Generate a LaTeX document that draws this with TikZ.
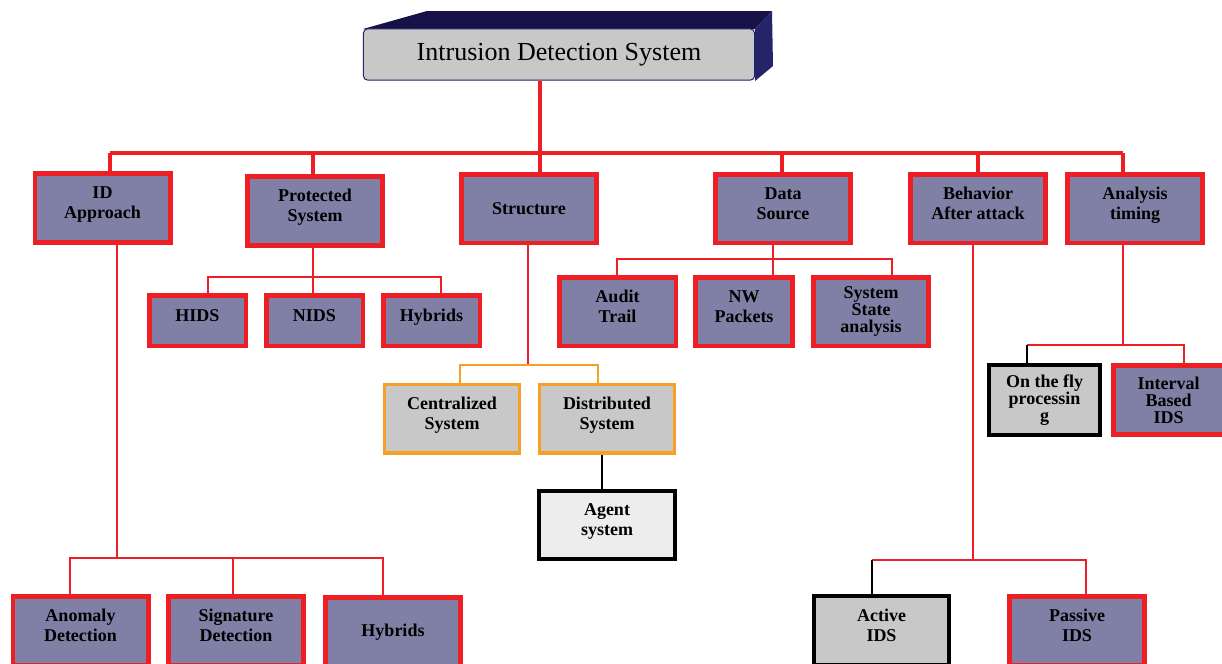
\documentclass[tikz,border=0pt]{standalone}
\usepackage{fontspec}
\setmainfont{Liberation Serif}
\definecolor{idsred}{RGB}{237,30,36}
\definecolor{idsblue}{RGB}{128,128,166}
\definecolor{idsgray}{RGB}{200,200,200}
\definecolor{idslight}{RGB}{236,237,236}
\definecolor{idsorange}{RGB}{247,160,40}
\definecolor{idsnavy}{RGB}{22,18,72}
\definecolor{idsside}{RGB}{38,36,104}
\tikzset{every picture/.style={line width=0.75pt}}
\tikzset{
  redbox/.style={draw=idsred, fill=idsblue, line width=3.4pt, inner sep=0pt, align=center,
    font=\bfseries\fontsize{13.5}{15}\selectfont, minimum width=101.6pt, minimum height=51.4pt,
    text depth=8pt},
  smallbox/.style={redbox, minimum width=72.4pt, minimum height=37.9pt},
  orangebox/.style={redbox, draw=idsorange, fill=idsgray, line width=2.6pt},
  blackbox/.style={redbox, draw=black, fill=idsgray, line width=3pt},
  agentbox/.style={blackbox, fill=idslight},
  flat/.style={text depth={}},
  tight/.style={flat, font=\bfseries\fontsize{13.5}{12.75}\selectfont},
  redlink/.style={draw=idsred, line width=3pt},
  sublink/.style={draw=idsred, line width=2.2pt},
  orangelink/.style={draw=idsorange, line width=2.2pt},
  blacklink/.style={draw=black, line width=2.2pt}
}

\begin{document}
\begin{tikzpicture}[x=0.75pt,y=0.75pt,yscale=-1,xscale=1]
    \useasboundingbox (0,0) rectangle (1222,664);
    % Title block, depth faces first
    \fill[idsnavy] (363,29) -- (427,11) -- (772,11) -- (755,29) -- cycle;
    \fill[idsside] (755,29) -- (772,11) -- (773,66) -- (755,81) -- cycle;
    \node[draw=idsside, fill=idsgray, rounded corners=3pt, minimum width=293.3pt, minimum height=38.3pt,
      font=\fontsize{19.5}{22}\selectfont] (ids) at (559,54.5) {Intrusion Detection System};
    % Level one
    \node[redbox] (idapp) at (102.5,208) {ID\\Approach};
    \node[redbox] (prot) at (315,211) {Protected\\System};
    \node[redbox, flat] (struct) at (529,208.5) {Structure};
    \node[redbox] (datasrc) at (783,208.5) {Data\\Source};
    \node[redbox] (behav) at (978,208.5) {Behavior\\After attack};
    \node[redbox] (timing) at (1135,208.5) {Analysis\\timing};
    % Protected system
    \node[smallbox] (hids) at (197.5,320.5) {HIDS};
    \node[smallbox] (nids) at (314.5,320.5) {NIDS};
    \node[smallbox] (hybp) at (431.5,320.5) {Hybrids};
    % Data source
    \node[redbox, minimum width=87.4pt] (audit) at (617.5,311.5) {Audit\\Trail};
    \node[redbox, minimum width=72.4pt] (nwpkt) at (744,311.5) {NW\\Packets};
    \node[redbox, tight, minimum width=86.6pt] (sysst) at (871,311.5) {System\\State\\analysis};
    % Structure
    \node[orangebox] (central) at (452,418.5) {Centralized\\System};
    \node[orangebox] (distrib) at (607,418.5) {Distributed\\System};
    \node[agentbox] (agent) at (607,525) {Agent\\system};
    % Analysis timing
    \node[blackbox, tight, minimum width=82.9pt, minimum height=52.1pt] (onfly) at (1044.5,400) {On the fly\\processin\\g};
    \node[redbox, tight, minimum width=82.9pt, minimum height=52.1pt] (interval) at (1168.5,400) {Interval\\Based\\IDS};
    % ID approach
    \node[redbox] (anomaly) at (80.5,630.5) {Anomaly\\Detection};
    \node[redbox] (signature) at (236,630.5) {Signature\\Detection};
    \node[redbox, flat] (hybd) at (393,632) {Hybrids};
    % Behavior after attack
    \node[blackbox] (active) at (881.5,630.5) {Active\\IDS};
    \node[redbox] (passive) at (1077,630.5) {Passive\\IDS};
    % Junctions
    \coordinate (j0) at (540,153);
    \coordinate (jA) at (110,153);
    \coordinate (jB) at (313,153);
    \coordinate (jD) at (782,153);
    \coordinate (jE) at (978,153);
    \coordinate (jF) at (1123,153);
    \coordinate (p0) at (313,277);
    \coordinate (p1) at (208,277);
    \coordinate (p3) at (441,277);
    \coordinate (d0) at (773,259);
    \coordinate (d1) at (617,259);
    \coordinate (d3) at (892,259);
    \coordinate (s0) at (528,365);
    \coordinate (s1) at (460,365);
    \coordinate (s2) at (598,365);
    \coordinate (a0) at (602,470);
    \coordinate (i0) at (117,558);
    \coordinate (i1) at (70,558);
    \coordinate (i2) at (233,558);
    \coordinate (i3) at (383,558);
    \coordinate (e0) at (973,560);
    \coordinate (e1) at (872,560);
    \coordinate (e2) at (1086,560);
    \coordinate (t0) at (1123,345);
    \coordinate (t1) at (1027,345);
    \coordinate (t2) at (1184,345);
    % Connection
    \draw[redlink, line width=3.6pt] (ids.south -| j0) -- (j0);
    \draw[redlink] (jA) -- (jF);
    \draw[redlink] (jA) -- (jA |- idapp.north);
    \draw[redlink] (jB) -- (jB |- prot.north);
    \draw[redlink] (j0) -- (j0 |- struct.north);
    \draw[redlink] (jD) -- (jD |- datasrc.north);
    \draw[redlink] (jE) -- (jE |- behav.north);
    \draw[redlink] (jF) -- (jF |- timing.north);
    % Connection
    \draw[sublink] (prot.south -| p0) -- (p0);
    \draw[sublink] (p1 |- hids.north) -- (p1) -- (p3) -- (p3 |- hybp.north);
    \draw[sublink] (p0) -- (p0 |- nids.north);
    % Connection
    \draw[sublink] (datasrc.south -| d0) -- (d0);
    \draw[sublink] (d1 |- audit.north) -- (d1) -- (d3) -- (d3 |- sysst.north);
    \draw[sublink] (d0) -- (d0 |- nwpkt.north);
    % Connection
    \draw[sublink] (struct.south -| s0) -- (s0);
    \draw[orangelink] (s1 |- central.north) -- (s1) -- (s2) -- (s2 |- distrib.north);
    \draw[blacklink] (distrib.south -| a0) -- (agent.north -| a0);
    % Connection
    \draw[sublink] (idapp.south -| i0) -- (i0);
    \draw[sublink] (i1 |- anomaly.north) -- (i1) -- (i3) -- (i3 |- hybd.north);
    \draw[sublink] (i2) -- (i2 |- signature.north);
    % Connection
    \draw[sublink] (behav.south -| e0) -- (e0);
    \draw[sublink] (e1) -- (e2) -- (e2 |- passive.north);
    \draw[blacklink] (e1) -- (e1 |- active.north);
    % Connection
    \draw[sublink] (timing.south -| t0) -- (t0);
    \draw[sublink] (t1) -- (t2) -- (t2 |- interval.north);
    \draw[blacklink] (t1) -- (t1 |- onfly.north);
\end{tikzpicture}
\end{document}
